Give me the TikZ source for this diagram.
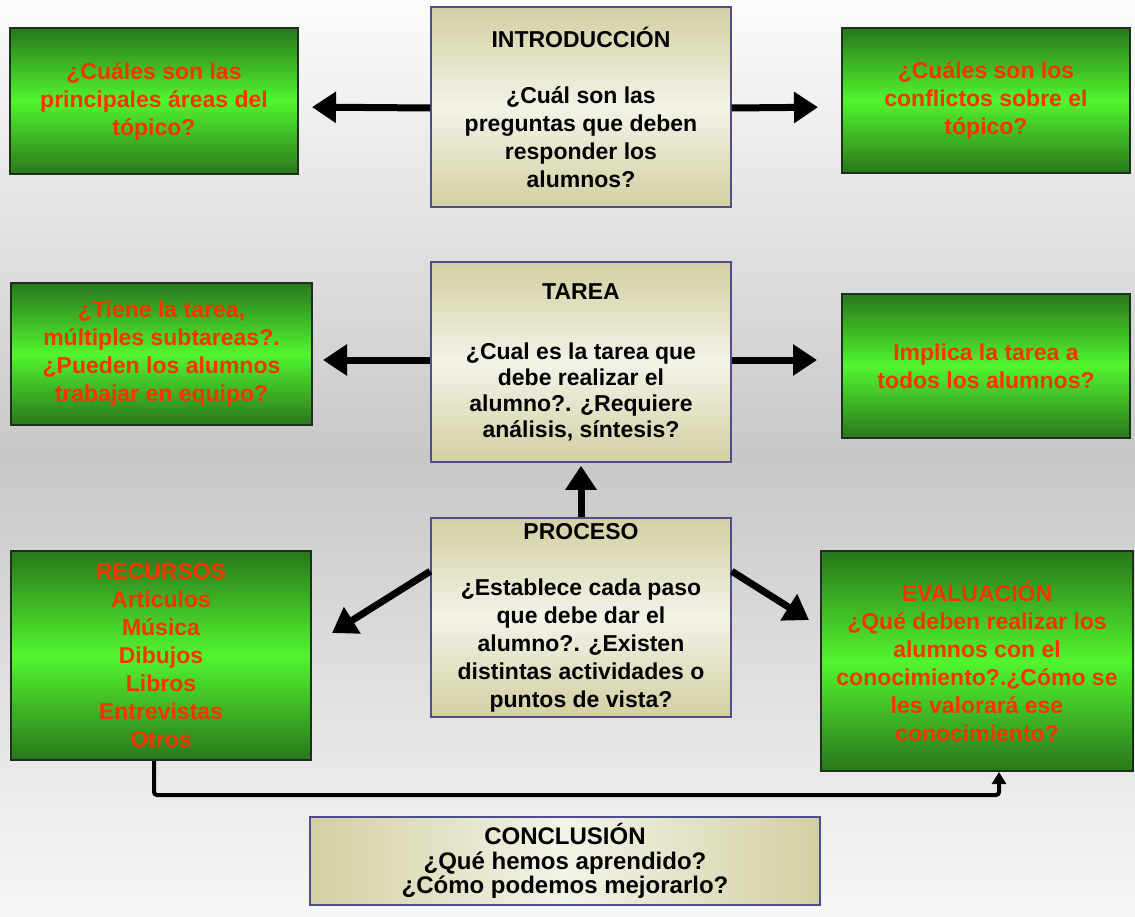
\documentclass[tikz,border=0pt]{standalone}
\usepackage{fontspec}
\setmainfont{Liberation Sans}
\usetikzlibrary{arrows.meta}
\definecolor{bgtop}{RGB}{252,252,252}
\definecolor{bgmid}{RGB}{200,200,200}
\definecolor{bgbot}{RGB}{248,248,248}
\definecolor{gdark}{RGB}{42,118,28}
\definecolor{glight}{RGB}{82,245,46}
\definecolor{gborder}{RGB}{28,48,28}
\definecolor{bdark}{RGB}{210,208,162}
\definecolor{blight}{RGB}{243,243,232}
\definecolor{bborder}{RGB}{78,78,140}
\definecolor{redtxt}{RGB}{250,52,0}
\begin{document}
\begin{tikzpicture}[x=1pt,y=-1pt,
  greenbox/.style={rectangle,draw=gborder,line width=2pt,inner sep=0pt,align=center,
    top color=gdark,bottom color=gdark,middle color=glight,text=redtxt,
    font=\bfseries\fontsize{23}{28}\selectfont},
  beigebox/.style={rectangle,draw=bborder,line width=1.5pt,inner sep=0pt,align=center,
    top color=bdark,bottom color=bdark,middle color=blight,text=black,
    font=\bfseries\fontsize{23}{28}\selectfont},
  bigarrow/.style={line width=7pt,-{Triangle[length=24pt,width=30pt]}},
  elbow/.style={line width=4pt,rounded corners=3pt,-{Triangle[length=12pt,width=14pt]}}]
\useasboundingbox (0,0) rectangle (1135,916);
\shade[top color=bgtop,bottom color=bgbot,middle color=bgmid] (0,0) rectangle (1135,916);

% top row
\node[beigebox,minimum width=300pt,minimum height=200pt] (intro) at (581,107)
  {INTRODUCCIÓN\\[28pt]¿Cuál son las\\preguntas que deben\\responder los\\alumnos?};
\node[greenbox,minimum width=288pt,minimum height=146pt] (gtl) at (154,101)
  {¿Cuáles son las\\principales áreas del\\tópico?};
\node[greenbox,minimum width=288pt,minimum height=145pt] (gtr) at (986,100.5)
  {¿Cuáles son los\\conflictos sobre el\\tópico?};

% middle row
\node[beigebox,minimum width=300pt,minimum height=200pt,
  font=\bfseries\fontsize{23}{26}\selectfont] (tarea) at (581,362)
  {TAREA\\[34pt]¿Cual es la tarea que\\debe realizar el\\alumno?. ¿Requiere\\análisis, síntesis?};
\node[greenbox,minimum width=301pt,minimum height=142pt] (gml) at (161.5,354)
  {¿Tiene la tarea,\\múltiples subtareas?.\\¿Pueden los alumnos\\trabajar en equipo?};
\node[greenbox,minimum width=288pt,minimum height=144pt] (gmr) at (986,366)
  {Implica la tarea a\\todos los alumnos?};

% bottom row
\node[beigebox,minimum width=300pt,minimum height=199pt] (proceso) at (581,617.5)
  {PROCESO\\[28pt]¿Establece cada paso\\que debe dar el\\alumno?. ¿Existen\\distintas actividades o\\puntos de vista?};
\node[greenbox,minimum width=300pt,minimum height=209pt] (recursos) at (161,655.5)
  {RECURSOS\\Artículos\\Música\\Dibujos\\Libros\\Entrevistas\\Otros};
\node[greenbox,minimum width=312pt,minimum height=220pt] (eval) at (977,661)
  {EVALUACIÓN\\¿Qué deben realizar los\\alumnos con el\\conocimiento?.¿Cómo se\\les valorará ese\\conocimiento?};

\node[beigebox,minimum width=510pt,minimum height=88pt,
  left color=bdark,right color=bdark,middle color=blight,
  font=\bfseries\fontsize{24}{24.5}\selectfont] (concl) at (565,861)
  {CONCLUSIÓN\\¿Qué hemos aprendido?\\¿Cómo podemos mejorarlo?};

% arrow end points
\coordinate (pl) at (332,633);
\coordinate (pr) at (809,620);

% connectors
\draw[bigarrow,shorten >=13pt] ([yshift=-1pt]intro.west) -- (gtl.east |- intro.west);
\draw[bigarrow,shorten >=23pt] ([yshift=-1pt]intro.east) -- (gtr.west |- intro.east);
\draw[bigarrow,shorten >=10pt] ([yshift=2pt]tarea.west) -- ([yshift=2pt]gml.east |- tarea.west);
\draw[bigarrow,shorten >=24pt] ([yshift=2pt]tarea.east) -- ([yshift=2pt]gmr.west |- tarea.east);
\draw[bigarrow,shorten >=3pt] (proceso.north) -- (tarea.south);
\draw[bigarrow] ([yshift=-54pt]proceso.north west) -- (pl);
\draw[bigarrow] ([yshift=-54pt]proceso.north east) -- (pr);
\draw[elbow] ([xshift=-7pt]recursos.south) -- ++(0,34) -| ([xshift=22pt]eval.south);
\end{tikzpicture}
\end{document}
